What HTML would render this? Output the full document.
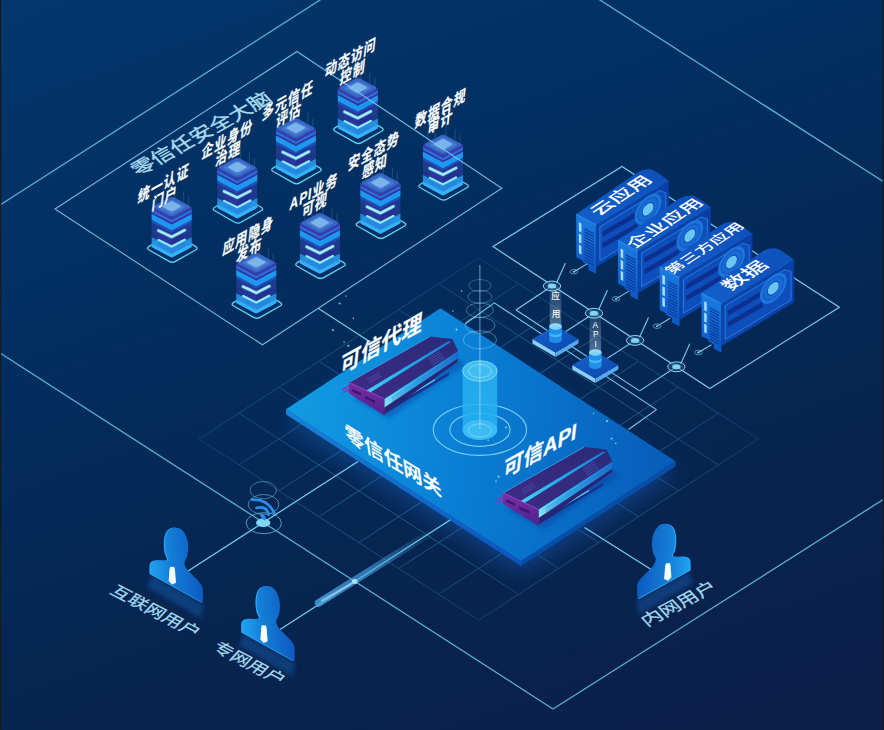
<!DOCTYPE html>
<html><head><meta charset="utf-8"><title>Zero Trust</title>
<style>html,body{margin:0;padding:0;background:#06285a;}body{width:884px;height:730px;overflow:hidden;font-family:"Liberation Sans",sans-serif;}svg{display:block}text{font-family:"Liberation Sans","Noto Sans CJK SC",sans-serif;}</style>
</head><body>
<svg width="884" height="730" viewBox="0 0 884 730">
<defs>
<linearGradient id="bg" gradientUnits="userSpaceOnUse" x1="0" y1="0" x2="338" y2="929">
<stop offset="0" stop-color="#03376d"/><stop offset="0.306" stop-color="#012f61"/><stop offset="0.694" stop-color="#07244f"/><stop offset="1" stop-color="#0c1e4a"/>
</linearGradient>
<linearGradient id="ptop" gradientUnits="userSpaceOnUse" x1="286" y1="409" x2="675" y2="461">
<stop offset="0" stop-color="#119ce2"/><stop offset="0.45" stop-color="#0a7fd5"/><stop offset="1" stop-color="#075cb8"/>
</linearGradient>
<filter id="blur12" x="-30%" y="-30%" width="160%" height="160%"><feGaussianBlur stdDeviation="11"/></filter>
<filter id="blur2" x="-30%" y="-30%" width="160%" height="160%"><feGaussianBlur stdDeviation="2"/></filter>
<filter id="blur1" x="-30%" y="-30%" width="160%" height="160%"><feGaussianBlur stdDeviation="1"/></filter>
<radialGradient id="gm" gradientUnits="userSpaceOnUse" cx="479" cy="445" r="300" gradientTransform="translate(0,156) scale(1,0.65)"><stop offset="0" stop-color="#fff" stop-opacity="1"/><stop offset="0.55" stop-color="#fff" stop-opacity="0.85"/><stop offset="1" stop-color="#fff" stop-opacity="0.3"/></radialGradient><mask id="gmask"><rect width="884" height="730" fill="url(#gm)"/></mask>
<linearGradient id="stG" x1="0" y1="0" x2="0" y2="1"><stop offset="0" stop-color="#2a46aa" stop-opacity="0.85"/><stop offset="0.6" stop-color="#263a98" stop-opacity="0.72"/><stop offset="1" stop-color="#2a7ad8" stop-opacity="0.85"/></linearGradient>
<linearGradient id="stCore" x1="0" y1="0" x2="0" y2="1"><stop offset="0" stop-color="#2a2c90"/><stop offset="1" stop-color="#2c3aa4"/></linearGradient>
<g id="stack"><path d="M-22.63,1.80 Q-25.80,0.00 -22.63,-1.80 L-2.57,-13.20 Q0.60,-15.00 3.77,-13.20 L23.83,-1.80 Q27.00,0.00 23.83,1.80 L3.77,13.20 Q0.60,15.00 -2.57,13.20 Z" fill="#0b3474" fill-opacity="0.45" stroke="#5fd6ee" stroke-width="1.25"/><path d="M-17.60,0.07 Q-20.00,-1.20 -17.60,-2.47 L-2.40,-10.53 Q0.00,-11.80 2.40,-10.53 L17.60,-2.47 Q20.00,-1.20 17.60,0.07 L2.40,8.13 Q0.00,9.40 -2.40,8.13 Z" fill="#23a0f2"/><polygon points="-20.0,-41.4 0.0,-30.8 20.0,-41.4 20.0,-1.5 0.0,9.1 -20.0,-1.5" fill="url(#stG)"/><polygon points="-13.3,-33.0 0.0,-26.0 13.3,-33.0 13.3,-2.0 0.0,5.0 -13.3,-2.0" fill="url(#stCore)"/><polygon points="0.0,-26.0 13.3,-33.0 13.3,-2.0 0.0,5.0" fill="#1e2280" opacity="0.35"/><polyline points="-13.2,-8 0,-1.5 13,-8.4" fill="none" stroke="#8feaff" stroke-width="2.5" stroke-linecap="round" stroke-linejoin="round"/><polygon points="-20.0,-11.0 0.0,-0.4 20.0,-11.0 20.0,-1.2 0.0,9.4 -20.0,-1.2" fill="#25a8f6" opacity="0.72"/><polygon points="-20.0,-4.5 0.0,6.1 20.0,-4.5 20.0,-1.2 0.0,9.4 -20.0,-1.2" fill="#3dbcfa" opacity="0.7"/><polyline points="-13.2,-17.6 0,-11.3 13,-18" fill="none" stroke="#5fd0ff" stroke-width="4.2" stroke-linecap="round" stroke-linejoin="round" opacity="0.35"/><polyline points="-13.2,-17.6 0,-11.3 13,-18" fill="none" stroke="#a0f0ff" stroke-width="2.5" stroke-linecap="round" stroke-linejoin="round"/><polygon points="-20.0,-28.6 0.0,-18.0 20.0,-28.6 20.0,-25.8 0.0,-15.2 -20.0,-25.8" fill="#1c5fc8" opacity="0.6"/><polygon points="-20.0,-34.5 0.0,-23.9 20.0,-34.5 20.0,-28.4 0.0,-17.8 -20.0,-28.4" fill="#1c98f0"/><polygon points="-20.0,-36.4 0.0,-25.8 20.0,-36.4 20.0,-34.3 0.0,-23.7 -20.0,-34.3" fill="#3636a2"/><polygon points="-20.0,-38.9 0.0,-28.3 20.0,-38.9 20.0,-36.2 0.0,-25.6 -20.0,-36.2" fill="#2a70da"/><polygon points="-20.0,-41.4 0.0,-30.8 20.0,-41.4 20.0,-38.7 0.0,-28.1 -20.0,-38.7" fill="#3a3cac"/><path d="M-17.40,-40.02 Q-20.00,-41.40 -17.40,-42.78 L-2.60,-50.62 Q0.00,-52.00 2.60,-50.62 L17.40,-42.78 Q20.00,-41.40 17.40,-40.02 L2.60,-32.18 Q0.00,-30.80 -2.60,-32.18 Z" fill="#3665c6"/><path d="M-12.47,-40.32 Q-14.50,-41.40 -12.47,-42.48 L-2.03,-48.02 Q0.00,-49.10 2.03,-48.02 L12.47,-42.48 Q14.50,-41.40 12.47,-40.32 L2.03,-34.78 Q0.00,-33.70 -2.03,-34.78 Z" fill="#467bd2"/><path d="M-8.57,-40.90 Q-10.20,-41.80 -8.57,-42.70 L-1.63,-46.50 Q0.00,-47.40 1.63,-46.50 L8.57,-42.70 Q10.20,-41.80 8.57,-40.90 L1.63,-37.10 Q0.00,-36.20 -1.63,-37.10 Z" fill="#7ab4ea"/><g stroke="#9fd8ff" stroke-width="0.6" opacity="0.3"><line x1="-15" y1="-44.5" x2="-15" y2="-54"/><line x1="-8" y1="-48" x2="-8" y2="-60"/><line x1="3" y1="-50" x2="3" y2="-64"/><line x1="12" y1="-46.5" x2="12" y2="-57"/><line x1="17" y1="-43.5" x2="17" y2="-51"/></g></g>
<linearGradient id="cfront" x1="0" y1="0" x2="0" y2="1"><stop offset="0" stop-color="#1b7de2"/><stop offset="1" stop-color="#0c56c4"/></linearGradient>
<linearGradient id="ctop" x1="0" y1="1" x2="1" y2="0"><stop offset="0" stop-color="#135fcb"/><stop offset="1" stop-color="#0d4fb9"/></linearGradient>
<linearGradient id="cside" x1="0" y1="0" x2="1" y2="0"><stop offset="0" stop-color="#0b46ae"/><stop offset="1" stop-color="#093ea6"/></linearGradient>
<g id="card"><polygon points="20.0,10.7 92.7,-33.2 92.7,9.1 20.0,52.8" fill="url(#cside)"/><polygon points="23.7,12.6 83.3,-23.6 89.6,-21.5 89.6,6.9 23.7,46.3" fill="#0d4eba" stroke="#2c80e0" stroke-width="0.9" stroke-linejoin="round"/><polygon points="26.3,17.3 61.2,-3.0 61.2,2.3 26.3,22.6" fill="#0c2f90"/><polygon points="26.3,28.8 61.2,8.5 61.2,13.8 26.3,34.1" fill="#0c2f90"/><g transform="matrix(1,-0.6,0,1,71.8,-4.9)"><circle r="13.4" fill="#1d74da"/><circle r="10.6" fill="#1158c4"/><circle r="9.6" fill="#1a6ad4"/><circle r="6.3" fill="#0e4cb8"/><circle r="5.4" fill="#6cc6f2"/></g><path d="M0,0 L60,-41 Q66,-45.6 75.1,-44.7 Q79,-44 92.7,-33.2 L20,10.7 Z" fill="url(#ctop)"/><polygon points="0.0,0.0 20.0,10.7 20.0,59.5 12.3,55.6 12.3,51.0 6.6,48.0 6.6,46.4 0.0,43.1" fill="url(#cfront)"/><polyline points="0.0,0.0 20.0,10.7" fill="none" stroke="#3a9af0" stroke-width="0.8"/><polyline points="20.0,10.7 20.0,59.0" fill="none" stroke="#0b3fa0" stroke-width="0.7" opacity="0.6"/><polygon points="2.7,8.0 5.2,9.4 5.2,18.2 2.7,16.8" fill="#a9ddff"/><polygon points="2.7,19.3 5.2,20.7 5.2,29.6 2.7,28.2" fill="#a9ddff"/><polygon points="2.7,30.3 5.2,31.7 5.2,40.4 2.7,39.0" fill="#a9ddff"/><g stroke="#0b3f9f" stroke-width="1.3"><line x1="8.2" y1="14.6" x2="17.6" y2="19.6"/><line x1="8.2" y1="17.4" x2="17.6" y2="22.4"/><line x1="8.2" y1="20.3" x2="17.6" y2="25.3"/><line x1="8.2" y1="23.1" x2="17.6" y2="28.1"/><line x1="8.2" y1="26.0" x2="17.6" y2="31.0"/><line x1="8.2" y1="28.9" x2="17.6" y2="33.9"/><line x1="8.2" y1="31.7" x2="17.6" y2="36.7"/><line x1="8.2" y1="34.5" x2="17.6" y2="39.5"/><line x1="8.2" y1="37.4" x2="17.6" y2="42.4"/><line x1="8.2" y1="40.2" x2="17.6" y2="45.2"/><line x1="8.2" y1="43.1" x2="17.6" y2="48.1"/><line x1="8.2" y1="45.9" x2="17.6" y2="50.9"/></g></g><linearGradient id="pside" gradientUnits="userSpaceOnUse" x1="286" y1="409" x2="521" y2="561"><stop offset="0" stop-color="#1784db"/><stop offset="1" stop-color="#0c54c0"/></linearGradient>
<linearGradient id="pedtop" x1="0" y1="0" x2="1" y2="1"><stop offset="0" stop-color="#1762ca"/><stop offset="1" stop-color="#0b47ae"/></linearGradient>
<linearGradient id="beam" x1="0" y1="0" x2="0" y2="1"><stop offset="0" stop-color="#cfeaff" stop-opacity="0.1"/><stop offset="1" stop-color="#cfeaff" stop-opacity="0.38"/></linearGradient>

<linearGradient id="dtop" x1="0" y1="1" x2="1" y2="0"><stop offset="0" stop-color="#3f2a86"/><stop offset="1" stop-color="#2b2a78"/></linearGradient>
<linearGradient id="dstripe" x1="0" y1="1" x2="1" y2="0"><stop offset="0" stop-color="#3fd0f7"/><stop offset="0.6" stop-color="#1f9fe8"/><stop offset="1" stop-color="#1b78d8"/></linearGradient>
<linearGradient id="dfin" x1="0" y1="1" x2="1" y2="0"><stop offset="0" stop-color="#8be6fb"/><stop offset="0.35" stop-color="#36b9f0"/><stop offset="1" stop-color="#1c6fd2"/></linearGradient>
<linearGradient id="dfront" x1="0" y1="0" x2="0" y2="1"><stop offset="0" stop-color="#7b2ba3"/><stop offset="1" stop-color="#4c2391"/></linearGradient>
<linearGradient id="cyl" x1="0" y1="0" x2="0" y2="1"><stop offset="0" stop-color="#2fb8f2" stop-opacity="0.75"/><stop offset="1" stop-color="#1fb0f2" stop-opacity="0.9"/></linearGradient>
<g id="device"><polygon points="4.0,16.0 40.0,36.0 116.0,-18.0 100.0,-30.0" fill="#0a3a9a" opacity="0.45" filter="url(#blur2)"/><polygon points="43.0,21.5 86.0,-3.2 86.0,-1.6 45.0,22.8" fill="#5ad3f2"/><polygon points="36.0,28.0 100.0,-10.0 100.0,-7.5 38.0,30.0" fill="#15318c"/><polygon points="34.6,16.2 108.8,-32.4 108.8,-21.0 34.6,32.4" fill="#2a2572"/><polygon points="34.6,17.0 108.8,-31.2 108.8,-23.8 34.6,25.6" fill="url(#dfin)"/><g stroke="#1b4fb0" stroke-width="0.5" opacity="0.7"><line x1="42.6" y1="15.4" x2="108.8" y2="-28.2"/><line x1="42.6" y1="17.3" x2="108.8" y2="-26.3"/><line x1="42.6" y1="19.2" x2="108.8" y2="-24.4"/></g><polygon points="0.0,0.0 81.2,-46.0 103.2,-43.4 108.8,-32.4 34.6,16.2" fill="url(#dtop)"/><polyline points="0.0,0.0 81.2,-46.0" fill="none" stroke="#2f9fe0" stroke-width="0.9"/><polygon points="17.3,8.1 99.3,-41.2 102.4,-40.6 21.3,10.0" fill="url(#dstripe)"/><g stroke="#5a8ae0" stroke-width="0.5" opacity="0.7"><line x1="79.0" y1="-24.0" x2="91.0" y2="-31.0"/><line x1="80.2" y1="-22.4" x2="92.2" y2="-29.4"/><line x1="81.4" y1="-20.8" x2="93.4" y2="-27.8"/><line x1="82.6" y1="-19.2" x2="94.6" y2="-26.2"/><line x1="83.8" y1="-17.6" x2="95.8" y2="-24.6"/><line x1="18.0" y1="-3.0" x2="30.0" y2="-10.0"/><line x1="19.2" y1="-1.2" x2="31.2" y2="-8.2"/><line x1="20.4" y1="0.6" x2="32.4" y2="-6.4"/></g><polyline points="-6.5,7.0 0.0,4.0" fill="none" stroke="#8a34b0" stroke-width="1.6"/><polyline points="-5.8,10.2 0.0,7.4" fill="none" stroke="#8a34b0" stroke-width="1.6"/><polygon points="0.0,0.0 34.6,16.2 35.6,17.0 35.6,33.6 34.6,32.4 0.0,11.0" fill="url(#dfront)"/><polyline points="0.0,0.0 34.6,16.2" fill="none" stroke="#9a4ac0" stroke-width="0.8"/><polygon points="3.0,6.5 12.0,10.7 12.0,13.2 3.0,9.0" fill="#37186e"/><polygon points="16.0,13.5 26.0,18.2 26.0,20.8 16.0,16.0" fill="#37186e"/></g>
<linearGradient id="ug" x1="0" y1="0.55" x2="1" y2="0.45"><stop offset="0" stop-color="#20a2f2"/><stop offset="0.38" stop-color="#147ed6"/><stop offset="1" stop-color="#0c58c0"/></linearGradient>
<linearGradient id="tun" x1="0" y1="1" x2="1" y2="0"><stop offset="0" stop-color="#4aa6e6" stop-opacity="0.8"/><stop offset="0.45" stop-color="#4aa6e6" stop-opacity="0.6"/><stop offset="1" stop-color="#4aa6e6" stop-opacity="0"/></linearGradient>
<g id="user"><path d="M-0.05,0.00 Q-0.32,-8.90 0.50,-10.61 Q1.32,-12.32 3.04,-13.15 Q4.75,-13.97 10.57,-13.49 Q16.39,-13.01 17.28,-14.17 Q18.17,-15.34 17.08,-16.57 Q15.98,-17.80 15.30,-20.54 Q14.61,-23.28 14.34,-27.39 Q14.06,-31.50 14.54,-34.93 Q15.02,-38.35 16.05,-40.95 Q17.08,-43.56 19.13,-44.93 Q21.19,-46.30 23.24,-46.43 Q25.30,-46.57 27.69,-45.89 Q30.09,-45.20 32.15,-42.80 Q34.20,-40.41 35.57,-36.98 Q36.94,-33.56 37.28,-29.79 Q37.62,-26.02 37.15,-21.91 Q36.67,-17.80 35.43,-15.41 Q34.20,-13.01 33.72,-11.98 Q33.24,-10.95 34.20,-8.08 Q35.16,-5.20 37.08,-3.28 Q38.99,-1.37 43.79,3.43 Q48.58,8.22 50.16,10.28 Q51.73,12.33 52.01,15.07 Q52.28,17.81 52.15,23.29 L52.01,28.77 Z" fill="#2aa6f4" transform="translate(-1.3,0.2)"/><path d="M-0.05,0.00 Q-0.32,-8.90 0.50,-10.61 Q1.32,-12.32 3.04,-13.15 Q4.75,-13.97 10.57,-13.49 Q16.39,-13.01 17.28,-14.17 Q18.17,-15.34 17.08,-16.57 Q15.98,-17.80 15.30,-20.54 Q14.61,-23.28 14.34,-27.39 Q14.06,-31.50 14.54,-34.93 Q15.02,-38.35 16.05,-40.95 Q17.08,-43.56 19.13,-44.93 Q21.19,-46.30 23.24,-46.43 Q25.30,-46.57 27.69,-45.89 Q30.09,-45.20 32.15,-42.80 Q34.20,-40.41 35.57,-36.98 Q36.94,-33.56 37.28,-29.79 Q37.62,-26.02 37.15,-21.91 Q36.67,-17.80 35.43,-15.41 Q34.20,-13.01 33.72,-11.98 Q33.24,-10.95 34.20,-8.08 Q35.16,-5.20 37.08,-3.28 Q38.99,-1.37 43.79,3.43 Q48.58,8.22 50.16,10.28 Q51.73,12.33 52.01,15.07 Q52.28,17.81 52.15,23.29 L52.01,28.77 Z" fill="url(#ug)"/><polygon points="19.3,-7.1 23.4,-6.8 24.1,-4.4 25.2,8.8 21.2,10.6 17.9,7.1 18.7,-4.4" fill="#f4fbff"/></g></defs>
<rect width="884" height="730" fill="url(#bg)"/>
<g stroke="#62bfe0" stroke-width="1.3" fill="none" opacity="0.9">
<line x1="-10.0" y1="211.4" x2="330.0" y2="-6.4" />
<line x1="590.0" y1="-6.4" x2="894.0" y2="188.5" />
<line x1="-10.0" y1="346.6" x2="553.0" y2="709.0" />
<line x1="553.0" y1="709.0" x2="894.0" y2="492.7" />
</g>
<g stroke="#3f9cc4" stroke-width="1" opacity="0.5" mask="url(#gmask)">
<line x1="199.0" y1="439.0" x2="478.7" y2="620.2" />
<line x1="199.0" y1="439.0" x2="478.7" y2="257.8" />
<line x1="238.9" y1="413.1" x2="518.6" y2="594.3" />
<line x1="238.9" y1="464.9" x2="518.6" y2="283.7" />
<line x1="278.9" y1="387.2" x2="558.5" y2="568.4" />
<line x1="278.9" y1="490.8" x2="558.6" y2="309.6" />
<line x1="318.9" y1="361.3" x2="598.5" y2="542.6" />
<line x1="318.9" y1="516.7" x2="598.5" y2="335.4" />
<line x1="358.8" y1="335.4" x2="638.5" y2="516.7" />
<line x1="358.8" y1="542.6" x2="638.5" y2="361.3" />
<line x1="398.8" y1="309.6" x2="678.4" y2="490.8" />
<line x1="398.8" y1="568.4" x2="678.4" y2="387.2" />
<line x1="438.7" y1="283.7" x2="718.4" y2="464.9" />
<line x1="438.7" y1="594.3" x2="718.4" y2="413.1" />
<line x1="478.7" y1="257.8" x2="758.3" y2="439.0" />
<line x1="478.7" y1="620.2" x2="758.3" y2="439.0" />
</g>
<polygon points="493.0,246.6 622.0,166.5 839.4,307.3 709.8,388.6" fill="none" stroke="#7ac8ea" stroke-width="1.2"/>
<use href="#stack" x="171.7" y="248.2"/>
<use href="#stack" x="237.3" y="209"/>
<use href="#stack" x="295.9" y="169.7"/>
<use href="#stack" x="357.8" y="129.4"/>
<use href="#stack" x="256.3" y="304.2"/>
<use href="#stack" x="319.9" y="264.4"/>
<use href="#stack" x="380.4" y="224.4"/>
<use href="#stack" x="443" y="186"/>
<polygon points="55.0,209.0 297.0,51.5 501.8,188.2 262.5,344.8" fill="none" stroke="#7ac8ea" stroke-width="1.1" opacity="0.9"/>
<g transform="matrix(0.01940,-0.01090,0.01290,0.01380,205.80,138.64)" fill="#a9dcf0" stroke="#a9dcf0" stroke-width="18"><text x="0" y="0" font-size="1000" text-anchor="middle">零信任安全大脑</text></g>
<g transform="matrix(0.01200,-0.00660,-0.00180,0.01640,163.12,189.23)" fill="#fff" stroke="#fff" stroke-width="14"><text x="0" y="0" font-size="1000" font-weight="bold" letter-spacing="75" text-anchor="middle">统一认证</text></g>
<g transform="matrix(0.01200,-0.00660,-0.00180,0.01640,164.12,203.73)" fill="#fff" stroke="#fff" stroke-width="14"><text x="0" y="0" font-size="1000" font-weight="bold" letter-spacing="75" text-anchor="middle">门户</text></g>
<g transform="matrix(0.01200,-0.00660,-0.00180,0.01640,226.72,145.03)" fill="#fff" stroke="#fff" stroke-width="14"><text x="0" y="0" font-size="1000" font-weight="bold" letter-spacing="75" text-anchor="middle">企业身份</text></g>
<g transform="matrix(0.01200,-0.00660,-0.00180,0.01640,227.72,159.53)" fill="#fff" stroke="#fff" stroke-width="14"><text x="0" y="0" font-size="1000" font-weight="bold" letter-spacing="75" text-anchor="middle">治理</text></g>
<g transform="matrix(0.01200,-0.00660,-0.00180,0.01640,287.32,106.23)" fill="#fff" stroke="#fff" stroke-width="14"><text x="0" y="0" font-size="1000" font-weight="bold" letter-spacing="75" text-anchor="middle">多元信任</text></g>
<g transform="matrix(0.01200,-0.00660,-0.00180,0.01640,288.32,120.73)" fill="#fff" stroke="#fff" stroke-width="14"><text x="0" y="0" font-size="1000" font-weight="bold" letter-spacing="75" text-anchor="middle">评估</text></g>
<g transform="matrix(0.01200,-0.00660,-0.00180,0.01640,350.22,63.43)" fill="#fff" stroke="#fff" stroke-width="14"><text x="0" y="0" font-size="1000" font-weight="bold" letter-spacing="75" text-anchor="middle">动态访问</text></g>
<g transform="matrix(0.01200,-0.00660,-0.00180,0.01640,352.22,77.93)" fill="#fff" stroke="#fff" stroke-width="14"><text x="0" y="0" font-size="1000" font-weight="bold" letter-spacing="75" text-anchor="middle">控制</text></g>
<g transform="matrix(0.01200,-0.00660,-0.00180,0.01640,247.72,241.23)" fill="#fff" stroke="#fff" stroke-width="14"><text x="0" y="0" font-size="1000" font-weight="bold" letter-spacing="75" text-anchor="middle">应用隐身</text></g>
<g transform="matrix(0.01200,-0.00660,-0.00180,0.01640,248.72,255.73)" fill="#fff" stroke="#fff" stroke-width="14"><text x="0" y="0" font-size="1000" font-weight="bold" letter-spacing="75" text-anchor="middle">发布</text></g>
<g transform="matrix(0.01200,-0.00660,-0.00180,0.01640,313.32,197.43)" fill="#fff" stroke="#fff" stroke-width="14"><text x="0" y="0" font-size="1000" font-weight="bold" letter-spacing="75" text-anchor="middle">API业务</text></g>
<g transform="matrix(0.01200,-0.00660,-0.00180,0.01640,314.32,210.93)" fill="#fff" stroke="#fff" stroke-width="14"><text x="0" y="0" font-size="1000" font-weight="bold" letter-spacing="75" text-anchor="middle">可视</text></g>
<g transform="matrix(0.01200,-0.00660,-0.00180,0.01640,373.32,156.93)" fill="#fff" stroke="#fff" stroke-width="14"><text x="0" y="0" font-size="1000" font-weight="bold" letter-spacing="75" text-anchor="middle">安全态势</text></g>
<g transform="matrix(0.01200,-0.00660,-0.00180,0.01640,374.32,171.93)" fill="#fff" stroke="#fff" stroke-width="14"><text x="0" y="0" font-size="1000" font-weight="bold" letter-spacing="75" text-anchor="middle">感知</text></g>
<g transform="matrix(0.01200,-0.00660,-0.00180,0.01640,440.12,114.03)" fill="#fff" stroke="#fff" stroke-width="14"><text x="0" y="0" font-size="1000" font-weight="bold" letter-spacing="75" text-anchor="middle">数据合规</text></g>
<g transform="matrix(0.01200,-0.00660,-0.00180,0.01640,439.82,127.53)" fill="#fff" stroke="#fff" stroke-width="14"><text x="0" y="0" font-size="1000" font-weight="bold" letter-spacing="75" text-anchor="middle">审计</text></g>
<use href="#card" x="576.2" y="214.2"/>
<g transform="matrix(0.01849,-0.01211,0.01518,0.00819,626.36,198.25)" fill="#fff" ><text x="0" y="0" font-size="1000" font-weight="500" text-anchor="middle">云应用</text></g>
<use href="#card" x="618.0" y="240.5"/>
<g transform="matrix(0.01757,-0.01151,0.01442,0.00778,669.59,226.00)" fill="#fff" ><text x="0" y="0" font-size="1000" font-weight="500" text-anchor="middle">企业应用</text></g>
<use href="#card" x="659.7" y="266.9"/>
<g transform="matrix(0.01472,-0.00964,0.01208,0.00652,708.75,250.55)" fill="#fff" ><text x="0" y="0" font-size="1000" font-weight="500" text-anchor="middle">第三方应用</text></g>
<use href="#card" x="701.5" y="293.2"/>
<g transform="matrix(0.01960,-0.01284,0.01609,0.00868,750.19,278.42)" fill="#fff" ><text x="0" y="0" font-size="1000" font-weight="500" text-anchor="middle">数据</text></g>
<g stroke="#7accea" stroke-width="1.1" fill="none" stroke-linejoin="round">
<polyline points="516.0,310.0 639.6,390.9" fill="none" />
<polyline points="552.0,286.0 516.0,310.0" fill="none" />
<polyline points="594.0,313.2 557.3,337.0" fill="none" />
<polyline points="635.1,340.4 598.5,364.0" fill="none" />
<polyline points="676.4,366.8 639.6,390.9" fill="none" />
<polyline points="465.0,324.0 494.3,302.9 656.5,409.6 628.4,429.5" fill="none" />
<polyline points="318.5,308.5 371.0,342.5" fill="none" />
</g>
<g stroke="#7accea" stroke-width="1.1" fill="none">
<line x1="556.3" y1="283.2" x2="565.4" y2="263.0" />
<line x1="574.0" y1="271.7" x2="587.0" y2="263.9" />
<ellipse cx="574.0" cy="271.7" rx="3.8" ry="2.3" stroke-width="0.8" opacity="0.8"/>
<ellipse cx="574.0" cy="271.7" rx="1.3" ry="0.9" fill="#7accea" stroke="none"/>
<line x1="598.3" y1="310.4" x2="607.4" y2="290.2" />
<line x1="616.0" y1="298.9" x2="629.0" y2="291.1" />
<ellipse cx="616.0" cy="298.9" rx="3.8" ry="2.3" stroke-width="0.8" opacity="0.8"/>
<ellipse cx="616.0" cy="298.9" rx="1.3" ry="0.9" fill="#7accea" stroke="none"/>
<line x1="639.4" y1="337.6" x2="648.5" y2="317.4" />
<line x1="657.1" y1="326.1" x2="670.1" y2="318.3" />
<ellipse cx="657.1" cy="326.1" rx="3.8" ry="2.3" stroke-width="0.8" opacity="0.8"/>
<ellipse cx="657.1" cy="326.1" rx="1.3" ry="0.9" fill="#7accea" stroke="none"/>
<line x1="680.7" y1="364.0" x2="689.8" y2="343.8" />
<line x1="698.4" y1="352.5" x2="711.4" y2="344.7" />
<ellipse cx="698.4" cy="352.5" rx="3.8" ry="2.3" stroke-width="0.8" opacity="0.8"/>
<ellipse cx="698.4" cy="352.5" rx="1.3" ry="0.9" fill="#7accea" stroke="none"/>
</g>
<ellipse cx="552.0" cy="286.0" rx="8.6" ry="4.9" fill="#0a2f66" fill-opacity="0.6" stroke="#8fdcf2" stroke-width="1"/><ellipse cx="552.0" cy="286.0" rx="4.2" ry="2.5" fill="#7fd0f0"/><ellipse cx="552.0" cy="286.0" rx="6.5" ry="3.8" fill="#8fdcf5" opacity="0.2" filter="url(#blur1)"/>
<ellipse cx="594.0" cy="313.2" rx="8.6" ry="4.9" fill="#0a2f66" fill-opacity="0.6" stroke="#8fdcf2" stroke-width="1"/><ellipse cx="594.0" cy="313.2" rx="4.2" ry="2.5" fill="#7fd0f0"/><ellipse cx="594.0" cy="313.2" rx="6.5" ry="3.8" fill="#8fdcf5" opacity="0.2" filter="url(#blur1)"/>
<ellipse cx="635.1" cy="340.4" rx="8.6" ry="4.9" fill="#0a2f66" fill-opacity="0.6" stroke="#8fdcf2" stroke-width="1"/><ellipse cx="635.1" cy="340.4" rx="4.2" ry="2.5" fill="#7fd0f0"/><ellipse cx="635.1" cy="340.4" rx="6.5" ry="3.8" fill="#8fdcf5" opacity="0.2" filter="url(#blur1)"/>
<ellipse cx="676.4" cy="366.8" rx="8.6" ry="4.9" fill="#0a2f66" fill-opacity="0.6" stroke="#8fdcf2" stroke-width="1"/><ellipse cx="676.4" cy="366.8" rx="4.2" ry="2.5" fill="#7fd0f0"/><ellipse cx="676.4" cy="366.8" rx="6.5" ry="3.8" fill="#8fdcf5" opacity="0.2" filter="url(#blur1)"/>
<polygon points="440.5,322.3 675.5,475.3 521.0,574.8 286.0,423.3" fill="#1a66c8" opacity="0.42" filter="url(#blur12)"/>
<polygon points="286.0,409.3 521.0,560.8 521.0,566.0 286.0,414.5" fill="url(#pside)"/>
<polygon points="521.0,560.8 675.5,461.3 675.5,466.5 521.0,566.0" fill="#064ea8"/>
<polygon points="440.5,308.3 675.5,461.3 521.0,560.8 286.0,409.3" fill="url(#ptop)"/>
<polygon points="532.5,339.0 555.5,352.4 555.5,357.0 532.5,343.6" fill="#8bcff6"/><polygon points="578.5,339.0 555.5,352.4 555.5,357.0 578.5,343.6" fill="#55a9ec"/><polygon points="532.5,339.0 555.5,325.6 578.5,339.0 555.5,352.4" fill="url(#pedtop)"/><path d="M549.2,326.5 L549.2,339.8 A6.3,3.2 0 0 0 561.8,339.8 L561.8,326.5 Z" fill="#1e8fea"/><path d="M549.2,331.5 L549.2,334.0 A6.3,3.2 0 0 0 561.8,334.0 L561.8,331.5 A6.3,3.2 0 0 1 549.2,331.5 Z" fill="#48b4f2"/><ellipse cx="555.5" cy="326.5" rx="6.3" ry="3.2" fill="#62c4f6"/><rect x="549.7" y="287" width="11.6" height="39.5" fill="url(#beam)"/><ellipse cx="555.5" cy="326.5" rx="6.3" ry="3.2" fill="#9adcfa" opacity="0.5"/>
<polygon points="572.3,365.0 595.3,378.4 595.3,383.0 572.3,369.6" fill="#8bcff6"/><polygon points="618.3,365.0 595.3,378.4 595.3,383.0 618.3,369.6" fill="#55a9ec"/><polygon points="572.3,365.0 595.3,351.6 618.3,365.0 595.3,378.4" fill="url(#pedtop)"/><path d="M589.0,352.5 L589.0,365.8 A6.3,3.2 0 0 0 601.5999999999999,365.8 L601.5999999999999,352.5 Z" fill="#1e8fea"/><path d="M589.0,357.5 L589.0,360.0 A6.3,3.2 0 0 0 601.5999999999999,360.0 L601.5999999999999,357.5 A6.3,3.2 0 0 1 589.0,357.5 Z" fill="#48b4f2"/><ellipse cx="595.3" cy="352.5" rx="6.3" ry="3.2" fill="#62c4f6"/><rect x="589.5" y="314" width="11.6" height="38.5" fill="url(#beam)"/><ellipse cx="595.3" cy="352.5" rx="6.3" ry="3.2" fill="#9adcfa" opacity="0.5"/>
<text x="555.6" y="299.07" font-size="8.6" font-weight="500" fill="#fff" text-anchor="middle">应</text>
<text x="556" y="317.07" font-size="8.6" font-weight="500" fill="#fff" text-anchor="middle">用</text>
<text x="595.3" y="327.59" font-size="8.4" font-weight="500" fill="#fff" text-anchor="middle">A</text>
<text x="595.7" y="337.19" font-size="8.4" font-weight="500" fill="#fff" text-anchor="middle">P</text>
<text x="595.7" y="347.49" font-size="8.4" font-weight="500" fill="#fff" text-anchor="middle">I</text>
<g fill="none" stroke="#8fe0f6">
<ellipse cx="479.9" cy="429.8" rx="46.7" ry="25.6" stroke-width="1.1" opacity="0.85"/>
<ellipse cx="479.9" cy="429.8" rx="30.1" ry="16.6" stroke-width="1.1" opacity="0.85"/>
</g>
<use href="#device" x="349" y="382.4"/>
<use href="#device" x="503.2" y="492.9"/>
<g fill="none" stroke="#8fd8f2" stroke-width="0.9">
<ellipse cx="479.9" cy="285.5" rx="11.1" ry="6.0" opacity="0.35"/>
<ellipse cx="479.9" cy="296.7" rx="12.0" ry="6.5" opacity="0.4"/>
<ellipse cx="479.9" cy="310.2" rx="13.5" ry="7.3" opacity="0.45"/>
<ellipse cx="479.9" cy="325.3" rx="15.0" ry="8.1" opacity="0.5"/>
<ellipse cx="479.9" cy="339.8" rx="16.6" ry="9.0" opacity="0.5"/>
</g>
<path d="M462.59999999999997,371 L462.59999999999997,429.8 A17.3,10.3 0 0 0 497.2,429.8 L497.2,371 A17.3,10.3 0 0 0 462.59999999999997,371 Z" fill="url(#cyl)"/>
<ellipse cx="479.9" cy="371.0" rx="17.3" ry="10.3" fill="#4cc6f5" fill-opacity="0.7" stroke="#a8e6fb" stroke-width="0.8" stroke-opacity="0.8"/>
<ellipse cx="479.9" cy="371.0" rx="11.5" ry="6.6" fill="none" stroke="#b8ecfc" stroke-width="0.8" opacity="0.7"/>
<ellipse cx="479.9" cy="429.8" rx="17.3" ry="10.3" fill="#5fd0f8" fill-opacity="0.45"/>
<ellipse cx="479.9" cy="430.5" rx="11.5" ry="6.6" fill="none" stroke="#b8ecfc" stroke-width="0.8" opacity="0.6"/>
<line x1="479.9" y1="265.0" x2="479.9" y2="429.5" stroke="#bfeeff" stroke-width="1" opacity="0.55"/>
<g transform="matrix(0.02040,-0.01120,-0.00260,0.02360,380.61,352.17)" fill="#fff" stroke="#fff" stroke-width="10"><text x="0" y="0" font-size="1000" font-weight="bold" text-anchor="middle">可信代理</text></g>
<g transform="matrix(0.01990,-0.01090,-0.00260,0.02300,539.31,458.44)" fill="#fff" stroke="#fff" stroke-width="10"><text x="0" y="0" font-size="1000" font-weight="bold" text-anchor="middle">可信API</text></g>
<g transform="matrix(0.01930,0.01160,0.00290,0.02040,394.30,468.35)" fill="#fff" ><text x="0" y="0" font-size="1000" font-weight="bold" text-anchor="middle">零信任网关</text></g>
<g stroke="#74d2ea" stroke-width="1.2" fill="none">
<line x1="263.4" y1="522.4" x2="358.0" y2="461.5" />
<line x1="263.4" y1="522.4" x2="187.7" y2="571.2" />
<line x1="280.0" y1="629.5" x2="450.5" y2="519.8" />
<line x1="584.5" y1="527.5" x2="652.0" y2="570.0" />
</g>
<line x1="318.5" y1="603" x2="436" y2="529.4" stroke="url(#tun)" stroke-width="7.4" stroke-linecap="round"/>
<line x1="322" y1="600.6" x2="352" y2="583.2" stroke="#bfe6fa" stroke-width="2.2" stroke-linecap="round" opacity="0.55"/>
<ellipse cx="354.7" cy="581.5" rx="2.8" ry="2.4" fill="#a8e2fa"/>
<g fill="none" stroke="#6fb8dc" stroke-width="0.9">
<ellipse cx="263.3" cy="490.1" rx="13.2" ry="8.6" opacity="0.6"/>
<ellipse cx="263.6" cy="504.5" rx="15.3" ry="10.0" opacity="0.7"/>
<ellipse cx="263.8" cy="523.2" rx="17.7" ry="10.5" opacity="0.85"/>
</g>
<ellipse cx="263.2" cy="522.7" rx="7.2" ry="4.3" fill="#7fd6f6"/>
<g fill="none" stroke="#2a8ee8" stroke-width="2.9" stroke-linecap="round"><path d="M252.3,499.7 Q267.6,498.8 274.3,513.1"/><path d="M256.6,507.9 Q266.9,505.5 268.6,514.6"/><path d="M261.8,515.1 L264.5,518.6" stroke-width="3.4"/></g>
<polygon points="151.8,575.9 203.8,604.9 200.8,617.9 146.8,586.9" fill="#1c70cc" opacity="0.35" filter="url(#blur2)"/>
<use href="#user" x="150.8" y="573.9"/>
<polygon points="243.5,634.4 295.5,663.4 292.5,676.4 238.5,645.4" fill="#1c70cc" opacity="0.35" filter="url(#blur2)"/>
<use href="#user" x="242.5" y="632.4"/>
<polygon points="688.3,572.2 636.3,601.2 639.3,614.2 693.3,583.2" fill="#1c70cc" opacity="0.35" filter="url(#blur2)"/>
<use href="#user" transform="translate(689.3,570.2) scale(-1,1)"/>
<g transform="matrix(0.01720,0.00910,-0.01100,0.01180,151.72,615.48)" fill="#a3daf0" stroke="#a3daf0" stroke-width="14"><text x="0" y="0" font-size="1000" text-anchor="middle">互联网用户</text></g>
<g transform="matrix(0.01720,0.00910,-0.01100,0.01180,245.62,667.48)" fill="#a3daf0" stroke="#a3daf0" stroke-width="14"><text x="0" y="0" font-size="1000" text-anchor="middle">专网用户</text></g>
<g transform="matrix(0.01800,-0.00950,0.01150,0.01240,682.87,607.91)" fill="#a3daf0" stroke="#a3daf0" stroke-width="14"><text x="0" y="0" font-size="1000" text-anchor="middle">内网用户</text></g>
<g fill="#8fe2ff" opacity="0.8">
<circle cx="345.9" cy="296" r="0.8"/>
<circle cx="339.6" cy="303.5" r="1.1"/>
<circle cx="353.3" cy="318.4" r="0.8"/>
<circle cx="332.9" cy="330.1" r="1.1"/>
<circle cx="344.1" cy="342.1" r="0.8"/>
<circle cx="348.4" cy="345.8" r="1.1"/>
<circle cx="452.9" cy="311" r="0.8"/>
<circle cx="456.6" cy="329.6" r="1.1"/>
<circle cx="461.6" cy="291.1" r="0.8"/>
<circle cx="606.9" cy="421.2" r="1.1"/>
<circle cx="593.6" cy="413.3" r="0.8"/>
<circle cx="611.6" cy="438.6" r="1.1"/>
<circle cx="615.8" cy="443.4" r="0.8"/>
<circle cx="498.6" cy="476.6" r="1.1"/>
<circle cx="496" cy="481.4" r="0.8"/>
<circle cx="506.2" cy="427.5" r="1.1"/>
<circle cx="488.1" cy="440.2" r="0.8"/>
</g>
<rect x="0" y="0" width="1.1" height="730" fill="#1b1a1a"/>
<rect x="882.6" y="0" width="1.4" height="730" fill="#1b1a1a"/>
</svg>
</body></html>
